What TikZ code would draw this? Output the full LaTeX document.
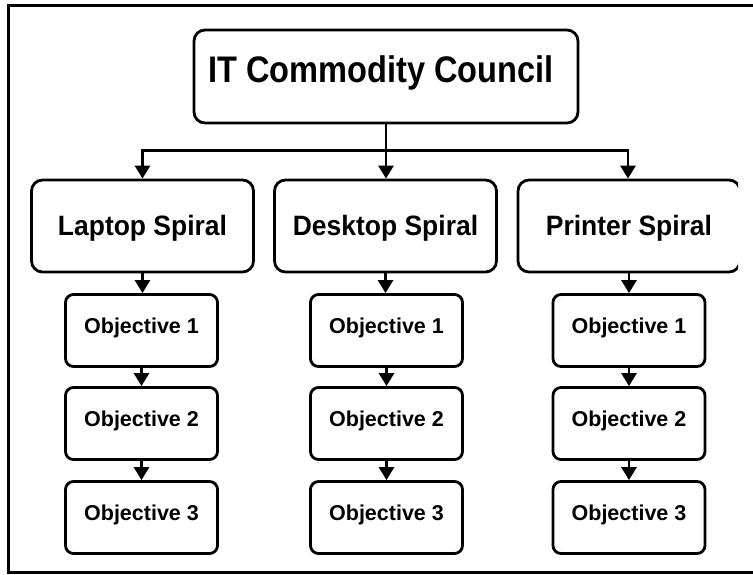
\documentclass[tikz,border=0pt]{standalone}
\usepackage{fontspec}
\setmainfont{Liberation Sans}
\newfontfamily\topfont{Liberation Sans}[FakeStretch=0.88]
\newfontfamily\midfont{Liberation Sans}[FakeStretch=0.945]
\usetikzlibrary{arrows.meta}
\begin{document}
\begin{tikzpicture}[x=1pt,y=-1pt,
  every node/.style={inner sep=0pt},
  boxline/.style={draw=black, line width=2.8pt, rounded corners=11pt, fill=white},
  topbox/.style={boxline, minimum width=384pt, minimum height=93pt,
     text height=20pt, text depth=9pt, font=\topfont\bfseries\fontsize{37}{40}\selectfont},
  spiralbox/.style={boxline, minimum width=222pt, minimum height=92pt,
     text height=20pt, text depth=2pt, font=\midfont\bfseries\fontsize{28}{32}\selectfont},
  objbox/.style={boxline, rounded corners=8pt, minimum width=152pt, minimum height=72pt,
     text height=14pt, text depth=9pt, font=\bfseries\fontsize{21.5}{24}\selectfont},
  conn/.style={line width=2.8pt, -{Triangle[width=15pt,length=13pt]}},
  plain/.style={line width=2.8pt}
]
\useasboundingbox (0,0) rectangle (753,574);
\fill[white] (0,0) rectangle (753,574);
% outer frame (right side lies outside the picture)
\draw[line width=3pt] (770,5.5) -- (8.5,5.5) -- (8.5,572) -- (770,572);

% top node
\node[topbox] (top) at (386,76.5) {\hspace*{-10pt}IT Commodity Council};

% spiral nodes
\node[spiralbox] (lap) at (142.5,226) {Laptop Spiral};
\node[spiralbox] (desk) at (385.5,226) {Desktop Spiral};
\begin{scope}
  \clip (0,0) rectangle (738,574);
  \node[spiralbox] (prn) at (629,226) {Printer Spiral};
\end{scope}

% objectives
\foreach \c/\x in {l/141.5, d/386.5, p/629}{
  \node[objbox] (\c o1) at (\x,330.5) {Objective 1};
  \node[objbox] (\c o2) at (\x,423.5) {Objective 2};
  \node[objbox] (\c o3) at (\x,517.5) {Objective 3};
}

% connectors from top
\draw[conn] (top.south) -- (desk.north -| top.south);
\draw[conn] (top.south) -- ++(0,26) -| (lap.north);
\draw[conn] (top.south) -- ++(0,26) -| ([xshift=-1pt]prn.north);

% spiral to objectives
\draw[conn] (lap.south) -- (lap.south |- lo1.north);
\draw[conn] (desk.south) -- (desk.south |- do1.north);
\draw[conn] (prn.south) -- (prn.south |- po1.north);
\foreach \c in {l,d,p}{
  \draw[conn] (\c o1.south) -- (\c o2.north);
  \draw[conn] (\c o2.south) -- (\c o3.north);
}
\end{tikzpicture}
\end{document}
